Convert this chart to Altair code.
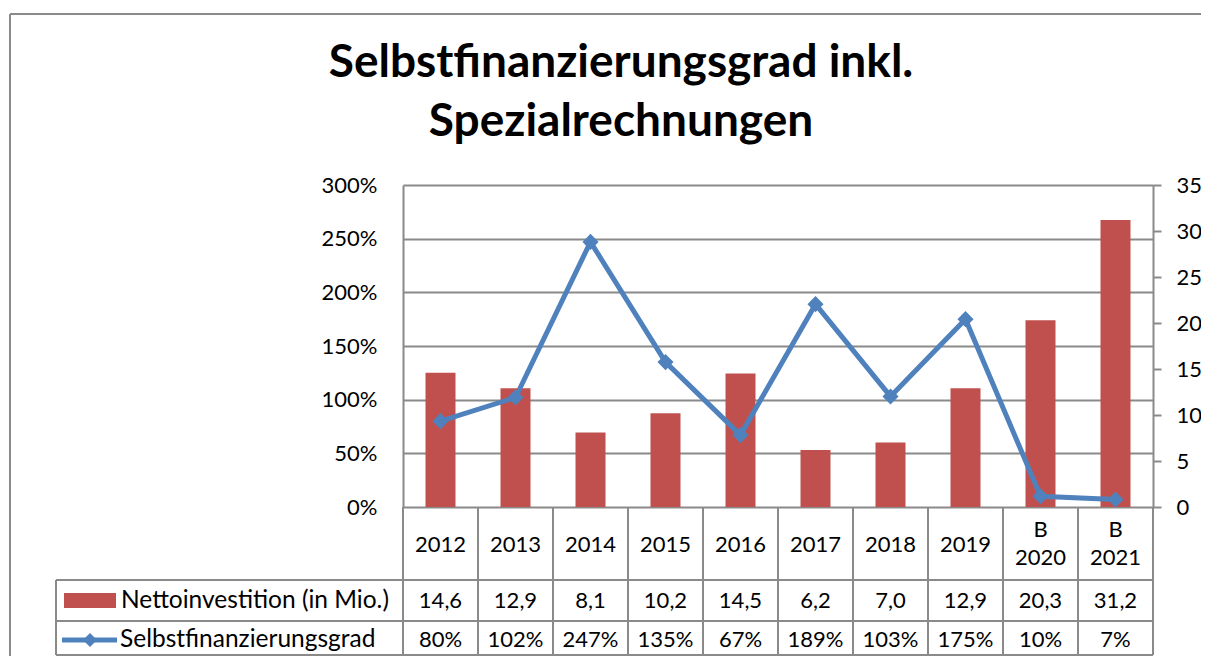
import altair as alt
import pandas as pd

# ---- data ----
categories = ["2012", "2013", "2014", "2015", "2016", "2017", "2018", "2019", "B 2020", "B 2021"]
prefixes = ["", "", "", "", "", "", "", "", "B", "B"]
years = ["2012", "2013", "2014", "2015", "2016", "2017", "2018", "2019", "2020", "2021"]
netto = [14.6, 12.9, 8.1, 10.2, 14.5, 6.2, 7.0, 12.9, 20.3, 31.2]
grad = [0.80, 1.02, 2.47, 1.35, 0.67, 1.89, 1.03, 1.75, 0.10, 0.07]
series_names = ["Nettoinvestition (in Mio.)", "Selbstfinanzierungsgrad"]
title_lines = ["Selbstfinanzierungsgrad inkl.", "Spezialrechnungen"]
left_ticks = [0, 0.5, 1.0, 1.5, 2.0, 2.5, 3.0]
right_ticks = [0, 5, 10, 15, 20, 25, 30, 35]

df = pd.DataFrame({
    "cat": categories,
    "prefix": prefixes,
    "year": years,
    "netto": netto,
    "grad": grad,
    "netto_txt": [f"{v:.1f}".replace(".", ",") for v in netto],
    "grad_txt": [f"{round(v * 100)}%" for v in grad],
})
deco = pd.DataFrame({"d": [0]})

RED = "#C0504D"
BLUE = "#4F81BD"
GRID = "#8A8A8A"
FONT = "Lato"
W, H = 750, 322
TABLE_BOTTOM = 470

x_scale = alt.Scale(paddingInner=0, paddingOuter=0)
x_enc = alt.X("cat:N", sort=categories, scale=x_scale, axis=None)

bars = alt.Chart(df).mark_bar(size=30, color=RED).encode(
    x=x_enc,
    y=alt.Y("netto:Q", scale=alt.Scale(domain=[0, 35], nice=False),
            axis=alt.Axis(orient="right", values=right_ticks, grid=False, tickSize=8,
                          labelPadding=15, title=None)),
)

line = alt.Chart(df).mark_line(
    color=BLUE, strokeWidth=5,
    point=alt.OverlayMarkDef(shape="diamond", size=260, filled=True, color=BLUE, opacity=1),
).encode(
    x=x_enc,
    y=alt.Y("grad:Q", scale=alt.Scale(domain=[0, 3], nice=False),
            axis=alt.Axis(orient="left", values=left_ticks, format=".0%", grid=True, ticks=False,
                          labelPadding=26, title=None)),
)

def rule(x1, x2, y1, y2, color=GRID, width=2):
    return alt.Chart(deco).mark_rule(color=color, strokeWidth=width).encode(
        x=alt.value(x1), x2=alt.value(x2), y=alt.value(y1), y2=alt.value(y2))

# table column lines (band edges from the x scale)
vlines = alt.Chart(df).mark_rule(color=GRID, strokeWidth=2).encode(
    x=alt.X("cat:N", sort=categories, scale=x_scale, axis=None, bandPosition=0),
    y=alt.value(H), y2=alt.value(TABLE_BOTTOM),
)
table_lines = [
    vlines,
    rule(W, W, H, TABLE_BOTTOM),
    rule(-347, W, 395, 395),
    rule(-347, W, 436, 436),
    rule(-347, W, TABLE_BOTTOM, TABLE_BOTTOM),
    rule(-347, -347, 395, TABLE_BOTTOM),
    # outer chart frame
    rule(-393, 820, -171, -171),
    rule(-393, -393, -171, 500),
]

txt = dict(font=FONT, fontSize=22, color="black", align="center", baseline="middle")
year_plain = alt.Chart(df).transform_filter("datum.prefix == ''").mark_text(**txt).encode(
    x=x_enc, y=alt.value(360), text="year:N")
year_pref = alt.Chart(df).transform_filter("datum.prefix != ''").mark_text(**txt).encode(
    x=x_enc, y=alt.value(373), text="year:N")
pref_text = alt.Chart(df).transform_filter("datum.prefix != ''").mark_text(**txt).encode(
    x=x_enc, y=alt.value(345), text="prefix:N")
netto_text = alt.Chart(df).mark_text(**txt).encode(
    x=x_enc, y=alt.value(416), text="netto_txt:N")
grad_text = alt.Chart(df).mark_text(**txt).encode(
    x=x_enc, y=alt.value(455), text="grad_txt:N")

legend_txt = dict(font=FONT, fontSize=24.5, color="black", align="left", baseline="middle")
leg1_sw = alt.Chart(deco).mark_rect(color=RED).encode(
    x=alt.value(-339), x2=alt.value(-287), y=alt.value(408), y2=alt.value(423))
leg1_tx = alt.Chart(deco).mark_text(**legend_txt).encode(
    x=alt.value(-282), y=alt.value(416), text=alt.value(series_names[0]))
leg2_ln = rule(-341, -286, 455, 455, color=BLUE, width=5)
leg2_pt = alt.Chart(deco).mark_point(shape="diamond", size=200, filled=True, color=BLUE, opacity=1).encode(
    x=alt.value(-313), y=alt.value(455))
leg2_tx = alt.Chart(deco).mark_text(**legend_txt).encode(
    x=alt.value(-283), y=alt.value(455), text=alt.value(series_names[1]))

title = alt.Chart(deco).mark_text(
    font=FONT, fontSize=46, fontWeight="bold", color="black", align="center",
    baseline="alphabetic", lineBreak="\n", lineHeight=59,
).encode(x=alt.value(218), y=alt.value(-108), text=alt.value("\n".join(title_lines)))

chart = alt.layer(
    bars, line, *table_lines, year_plain, year_pref, pref_text, netto_text, grad_text,
    leg1_sw, leg1_tx, leg2_ln, leg2_pt, leg2_tx, title,
).resolve_scale(y="independent").properties(
    width=W, height=H,
    autosize=alt.AutoSizeParams(type="none"),
    padding={"left": 395, "top": 177, "right": 48, "bottom": 149},
    background="white",
).configure_axis(
    labelFont=FONT, labelFontSize=22, labelColor="black",
    domainColor=GRID, domainWidth=2, tickColor=GRID, tickWidth=2,
    gridColor=GRID, gridWidth=2,
).configure_view(stroke=None)

chart.save("out.html", embed_options={"renderer": "svg", "actions": False})
